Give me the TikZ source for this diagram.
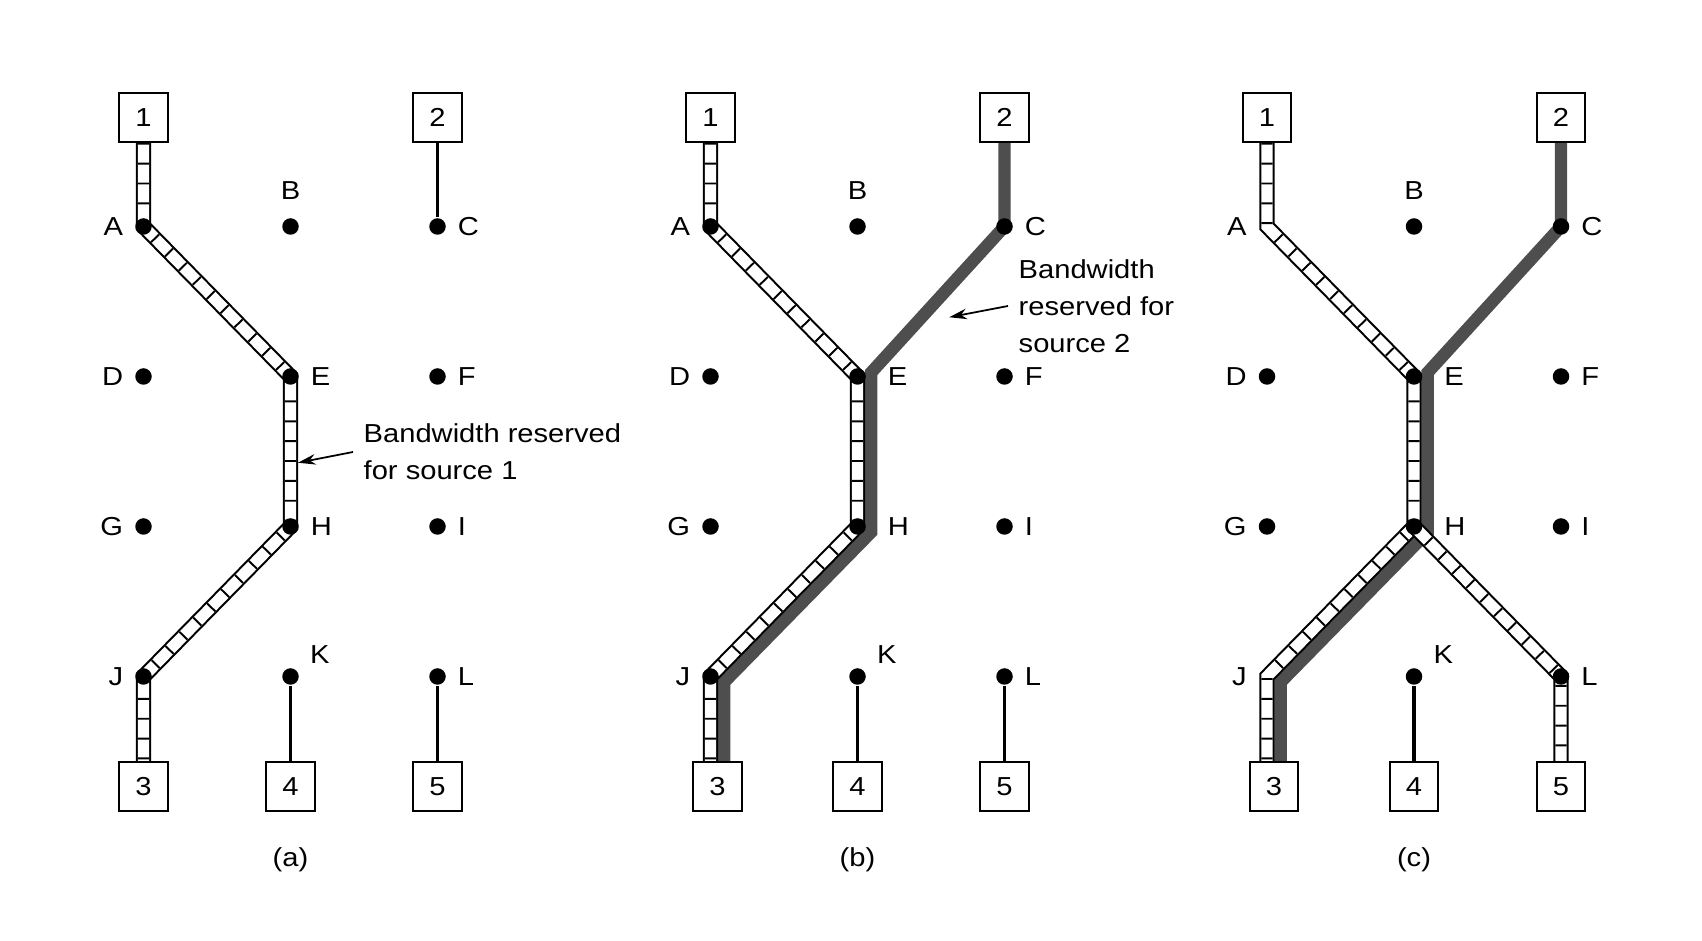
\documentclass[tikz,border=0pt]{standalone}
\usepackage{fontspec}
\setmainfont{Liberation Sans}[FakeStretch=1.12]
\usetikzlibrary{arrows.meta, calc}
\pgfdeclarelayer{bg}
\pgfsetlayers{bg,main}
\definecolor{rsvgray}{RGB}{78,78,78}

\begin{document}
\begin{tikzpicture}[
    line width=0.6pt, % line style
    > = {Stealth[length=5pt, width=3pt]}, % arrow head style
    font=\fontsize{7.4}{10.6}\selectfont,
    dot/.style={circle, fill, inner sep=0pt, minimum size=1.65mm},
    bare/.style={circle, inner sep=0pt, minimum size=1.65mm},
    host/.style={draw, fill=white, inner sep=0pt, minimum size=4.85mm},
    lbl/.style={inner sep=0pt, label distance=1mm},
    lft/.style={label={[lbl]left:#1}},
    rgt/.style={label={[lbl]right:#1}},
    rgtw/.style={label={[lbl, label distance=2mm]right:#1}},
    abv/.style={label={[lbl, label distance=1.7mm]above:#1}},
    abr/.style={label={[lbl, label distance=0.7mm, xshift=0.7mm]above right:#1}},
    wire/.style={line width=1.1pt},
    ladder/.style={line width=4.4pt, postaction={draw=white, line width=3.2pt},
        postaction={draw, line width=3.2pt, dash pattern=on 0.55pt off 5.1pt}},
    src2/.style={draw=rsvgray, line width=3.55pt},
    note/.style={align=left, inner xsep=1mm, inner ysep=0pt, anchor=west},
    pointer/.style={->, line width=0.5pt},
]
\useasboundingbox (0,0) rectangle (17.02,9.41);

% (a) source 1 only
\begin{scope}[xshift=1.435cm, yshift=7.145cm, name prefix=a-]
    \foreach \n/\i/\j/\s in {A/0/0/lft, B/1/0/abv, C/2/0/rgt, D/0/1/lft, E/1/1/rgt, F/2/1/rgt,
        G/0/2/lft, H/1/2/rgt, I/2/2/rgt, J/0/3/lft, K/1/3/abr, L/2/3/rgt}
        \node[dot, \s=\n] (\n) at (1.47*\i, -1.5*\j) {};
    \node[host] (s1) at (0, 1.09) {1};
    \node[host] (s2) at (2.94, 1.09) {2};
    \node[host] (s3) at (0, -5.6) {3};
    \node[host] (s4) at (1.47, -5.6) {4};
    \node[host] (s5) at (2.94, -5.6) {5};
    \node (tag) at (1.47, -6.335) {(a)};
    \begin{pgfonlayer}{bg}
        \draw[ladder] (s1) -- (A.center) -- (E.center) -- (H.center) -- (J.center) -- (J.center |- s3.north);
        \draw[wire] (s2) -- (C) (K) -- (s4) (L) -- (s5);
    \end{pgfonlayer}
    \node[note] (note1) at (2.095, -2.255) {Bandwidth reserved\\for source 1};
    \coordinate (tip1) at ($(E.center)!0.575!(H.center)+(0.075,0)$);
    \draw[pointer] (note1.west) -- (tip1);
\end{scope}

% (b) source 2 added
\begin{scope}[xshift=7.105cm, yshift=7.145cm, name prefix=b-]
    \foreach \n/\i/\j/\s in {A/0/0/lft, B/1/0/abv, C/2/0/rgt, D/0/1/lft, E/1/1/rgtw, F/2/1/rgt,
        G/0/2/lft, H/1/2/rgtw, I/2/2/rgt, J/0/3/lft, K/1/3/abr, L/2/3/rgt}
        \node[dot, \s=\n] (\n) at (1.47*\i, -1.5*\j) {};
    \node[host] (s1) at (0, 1.09) {1};
    \node[host] (s2) at (2.94, 1.09) {2};
    \node[host] (s3) at (0.07, -5.6) {3};
    \node[host] (s4) at (1.47, -5.6) {4};
    \node[host] (s5) at (2.94, -5.6) {5};
    \node (tag) at (1.47, -6.335) {(b)};
    \coordinate (e2) at ($(E.center)+(0.137,0.04)$);
    \coordinate (h2) at ($(H.center)+(0.137,-0.056)$);
    \coordinate (j2) at ($(J.center)+(0.137,-0.056)$);
    \begin{pgfonlayer}{bg}
        \draw[src2] (s2) -- (C.center) -- (e2) -- (h2) -- (j2) -- (j2 |- s3.north);
        \draw[ladder] (s1) -- (A.center) -- (E.center) -- (H.center) -- (J.center) -- (J.center |- s3.north);
        \draw[wire] (K) -- (s4) (L) -- (s5);
    \end{pgfonlayer}
    \node[note] (note2) at (2.975, -0.795) {Bandwidth\\reserved for\\source 2};
    \coordinate (tip2) at ($(C.center)!0.605!(E.center)+(0.337,0)$);
    \draw[pointer] (note2.west) -- (tip2);
\end{scope}

% (c) source 1 also to 5
\begin{scope}[xshift=12.67cm, yshift=7.145cm, name prefix=c-]
    \foreach \n/\i/\j/\s in {B/1/0/abv, C/2/0/rgt, D/0/1/lft, E/1/1/rgtw, F/2/1/rgt,
        G/0/2/lft, H/1/2/rgtw, I/2/2/rgt, K/1/3/abr, L/2/3/rgt}
        \node[dot, \s=\n] (\n) at (1.47*\i, -1.5*\j) {};
    \node[bare, lft=A] (A) at (0, 0) {};
    \node[bare, lft=J] (J) at (0, -4.5) {};
    \node[host] (s1) at (0, 1.09) {1};
    \node[host] (s2) at (2.94, 1.09) {2};
    \node[host] (s3) at (0.07, -5.6) {3};
    \node[host] (s4) at (1.47, -5.6) {4};
    \node[host] (s5) at (2.94, -5.6) {5};
    \node (tag) at (1.47, -6.335) {(c)};
    \coordinate (e2) at ($(E.center)+(0.137,0.04)$);
    \coordinate (h2) at ($(H.center)+(0.137,-0.056)$);
    \coordinate (j2) at ($(J.center)+(0.137,-0.056)$);
    \begin{pgfonlayer}{bg}
        \draw[src2] (s2) -- (C.center) -- (e2) -- (h2) -- (j2) -- (j2 |- s3.north);
        \draw[ladder] (s1) -- (A.center) -- (E.center) -- (H.center) -- (J.center) -- (J.center |- s3.north);
        \draw[ladder] (H.center) -- (L.center) -- (s5);
        \draw[wire] (K) -- (s4);
    \end{pgfonlayer}
\end{scope}
\end{tikzpicture}
\end{document}
